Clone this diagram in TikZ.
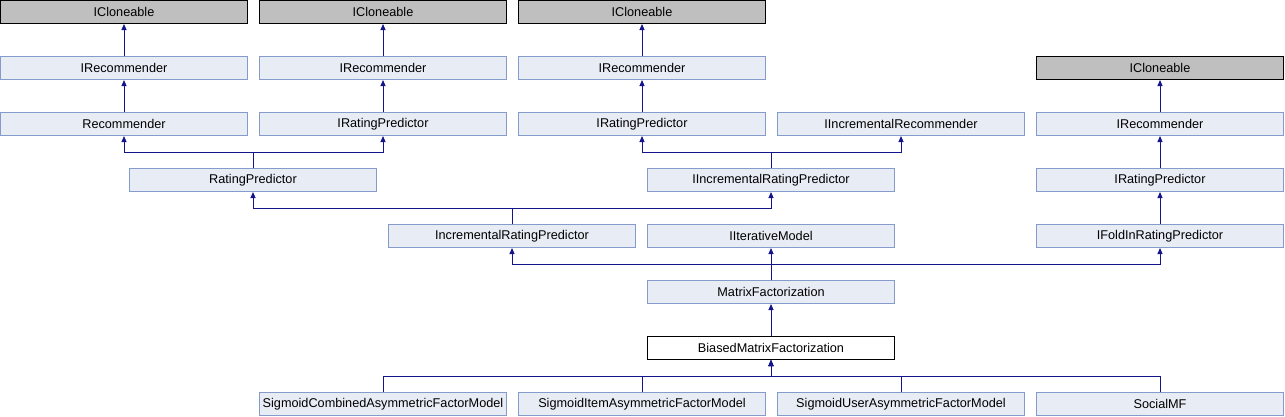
\documentclass[tikz,border=0pt]{standalone}
\usepackage{fontspec}
\setmainfont{Liberation Sans}
\usetikzlibrary{arrows.meta}
\definecolor{boxfill}{RGB}{232,236,245}
\definecolor{boxline}{RGB}{132,155,204}
\definecolor{greyfill}{RGB}{191,191,191}
\definecolor{edgecol}{RGB}{20,20,140}
\tikzset{
  cls/.style={draw=boxline, fill=boxfill, line width=1pt, minimum width=247pt, minimum height=23pt, inner sep=0pt, font=\fontsize{12.7}{14}\selectfont},
  ext/.style={cls, draw=black, fill=greyfill},
  cur/.style={cls, draw=black, fill=white},
  edge/.style={draw=edgecol, line width=1pt, -{Triangle[length=6pt,width=5pt]}}
}
\begin{document}
\begin{tikzpicture}[x=1pt,y=-1pt]
\useasboundingbox (0,0) rectangle (1285,416);
% row 1
\node[ext] (IC1) at (124,12) {ICloneable};
\node[ext] (IC2) at (383,12) {ICloneable};
\node[ext] (IC3) at (642,12) {ICloneable};
% row 2
\node[cls] (IR1) at (124,68) {IRecommender};
\node[cls] (IR2) at (383,68) {IRecommender};
\node[cls] (IR3) at (642,68) {IRecommender};
\node[ext] (IC4) at (1160,68) {ICloneable};
% row 3
\node[cls] (Rec) at (124,124) {Recommender};
\node[cls] (IRP2) at (383,124) {IRatingPredictor};
\node[cls] (IRP3) at (642,124) {IRatingPredictor};
\node[cls] (IIR) at (901,124) {IIncrementalRecommender};
\node[cls] (IR4) at (1160,124) {IRecommender};
% row 4
\node[cls] (RP) at (253,180) {RatingPredictor};
\node[cls] (IIRP) at (771,180) {IIncrementalRatingPredictor};
\node[cls] (IRP4) at (1160,180) {IRatingPredictor};
% row 5
\node[cls] (IncRP) at (512,236) {IncrementalRatingPredictor};
\node[cls] (IIter) at (771,236) {IIterativeModel};
\node[cls] (IFold) at (1160,236) {IFoldInRatingPredictor};
% row 6
\node[cls] (MF) at (771,292) {MatrixFactorization};
% row 7
\node[cur] (BMF) at (771,348) {BiasedMatrixFactorization};
% row 8
\node[cls] (SCA) at (383,404) {SigmoidCombinedAsymmetricFactorModel};
\node[cls] (SIA) at (642,404) {SigmoidItemAsymmetricFactorModel};
\node[cls] (SUA) at (901,404) {SigmoidUserAsymmetricFactorModel};
\node[cls] (SMF) at (1160,404) {SocialMF};
% edges
\draw[edge] (IR1.north) -- (IC1.south);
\draw[edge] (IR2.north) -- (IC2.south);
\draw[edge] (IR3.north) -- (IC3.south);
\draw[edge] (Rec.north) -- (IR1.south);
\draw[edge] (IRP2.north) -- (IR2.south);
\draw[edge] (IRP3.north) -- (IR3.south);
\draw[edge] (IR4.north) -- (IC4.south);
\draw[edge] (IRP4.north) -- (IR4.south);
\draw[edge] (IFold.north) -- (IRP4.south);
\draw[edge] (BMF.north) -- (MF.south);
\draw[edge] (RP.north) -- ++(0,-16) -| (Rec.south);
\draw[edge] (RP.north) -- ++(0,-16) -| (IRP2.south);
\draw[edge] (IIRP.north) -- ++(0,-16) -| (IRP3.south);
\draw[edge] (IIRP.north) -- ++(0,-16) -| (IIR.south);
\draw[edge] (IncRP.north) -- ++(0,-16) -| (RP.south);
\draw[edge] (IncRP.north) -- ++(0,-16) -| (IIRP.south);
\draw[edge] (MF.north) -- ++(0,-16) -| (IncRP.south);
\draw[edge] (MF.north) -- (IIter.south);
\draw[edge] (MF.north) -- ++(0,-16) -| (IFold.south);
\draw[edge] (SCA.north) -- ++(0,-16) -| (BMF.south);
\draw[edge] (SIA.north) -- ++(0,-16) -| (BMF.south);
\draw[edge] (SUA.north) -- ++(0,-16) -| (BMF.south);
\draw[edge] (SMF.north) -- ++(0,-16) -| (BMF.south);
\end{tikzpicture}
\end{document}
